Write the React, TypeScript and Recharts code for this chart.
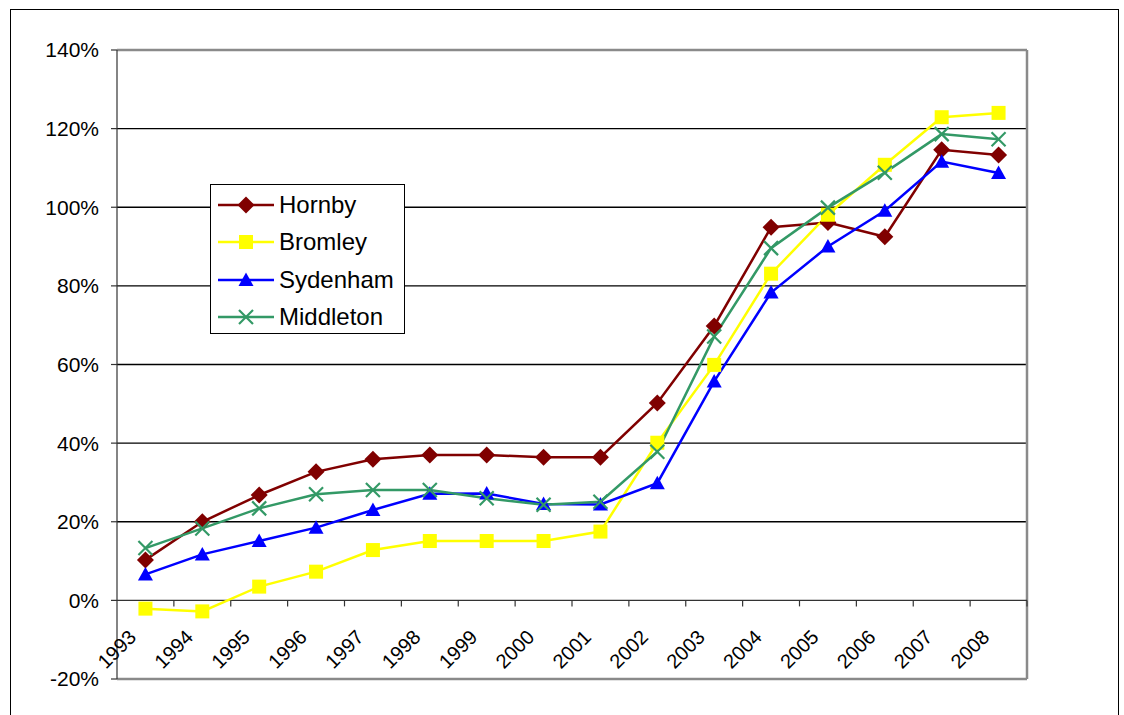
import React from "react";
import {
  CartesianGrid,
  Legend,
  Line,
  LineChart,
  ReferenceLine,
  XAxis,
  YAxis,
} from "recharts";

const years = [
  "1993", "1994", "1995", "1996", "1997", "1998", "1999", "2000",
  "2001", "2002", "2003", "2004", "2005", "2006", "2007", "2008",
];

// percentage change per area
const hornby = [10.3, 20.0, 26.8, 32.7, 35.9, 37.0, 37.0, 36.4, 36.4, 50.2, 69.8, 94.9, 96.1, 92.5, 114.6, 113.3];
const bromley = [-2.1, -2.8, 3.5, 7.3, 12.8, 15.1, 15.1, 15.1, 17.5, 40.1, 59.9, 83.1, 98.1, 110.8, 122.9, 124.0];
const sydenham = [6.6, 11.7, 15.1, 18.5, 23.0, 27.1, 27.2, 24.5, 24.4, 29.8, 55.7, 78.3, 90.0, 99.1, 111.6, 108.7];
const middleton = [13.3, 18.3, 23.4, 27.0, 28.1, 28.1, 26.0, 24.3, 25.1, 37.8, 67.1, 89.6, 99.9, 108.8, 118.6, 117.3];

const yTicks = [-20, 0, 20, 40, 60, 80, 100, 120, 140];
const gridValues = [20, 40, 60, 80, 100, 120];
const frameValues = [-20, 140];

type Shape = "diamond" | "square" | "triangle" | "cross";

const seriesList: { key: string; name: string; color: string; shape: Shape; values: number[] }[] = [
  { key: "hornby", name: "Hornby", color: "#800000", shape: "diamond", values: hornby },
  { key: "bromley", name: "Bromley", color: "#FFFF00", shape: "square", values: bromley },
  { key: "sydenham", name: "Sydenham", color: "#0000FF", shape: "triangle", values: sydenham },
  { key: "middleton", name: "Middleton", color: "#339966", shape: "cross", values: middleton },
];

const rows = years.map((year, i) => {
  const row: Record<string, string | number> = { year };
  seriesList.forEach((s) => {
    row[s.key] = s.values[i];
  });
  return row;
});

const FONT = "'Liberation Sans', Arial, Helvetica, sans-serif";
const W = 1124;
const H = 715;
const PLOT_LEFT = 117;
const PLOT_TOP = 50;
const PLOT_RIGHT = 1027;
const PLOT_BOTTOM = 679;
const Y_AXIS_W = 60;
const X_AXIS_H = 30;
const BAND = (PLOT_RIGHT - PLOT_LEFT) / years.length;
const ZERO_Y = PLOT_TOP + ((PLOT_BOTTOM - PLOT_TOP) * 140) / 160;

function Marker({ shape, cx, cy, color }: { shape: Shape; cx: number; cy: number; color: string }) {
  if (shape === "diamond") {
    const r = 8.5;
    return (
      <polygon
        points={`${cx},${cy - r} ${cx + r},${cy} ${cx},${cy + r} ${cx - r},${cy}`}
        fill={color}
      />
    );
  }
  if (shape === "square") {
    return <rect x={cx - 7} y={cy - 7} width={14} height={14} fill={color} />;
  }
  if (shape === "triangle") {
    return (
      <polygon
        points={`${cx},${cy - 7.5} ${cx + 7.5},${cy + 6} ${cx - 7.5},${cy + 6}`}
        fill={color}
      />
    );
  }
  return (
    <g stroke={color} strokeWidth={2.2}>
      <line x1={cx - 7} y1={cy - 7} x2={cx + 7} y2={cy + 7} />
      <line x1={cx - 7} y1={cy + 7} x2={cx + 7} y2={cy - 7} />
    </g>
  );
}

// year labels sit just under the 0% line, with the tick marks on the band edges
function YearTick(props: any) {
  const { x, payload } = props;
  const tx = x - 8;
  const ty = ZERO_Y + 38;
  return (
    <g>
      <line
        x1={x + BAND / 2}
        y1={ZERO_Y}
        x2={x + BAND / 2}
        y2={ZERO_Y + 6}
        stroke="#333"
        strokeWidth={1.2}
      />
      <text
        x={tx}
        y={ty}
        textAnchor="end"
        fontSize={20}
        fontFamily={FONT}
        fill="#000"
        transform={`rotate(-45 ${tx} ${ty})`}
      >
        {payload.value}
      </text>
    </g>
  );
}

function LegendBox() {
  return (
    <div
      style={{
        width: 193,
        height: 147,
        border: "1px solid #000",
        background: "#fff",
        paddingTop: 1,
        fontFamily: FONT,
        boxSizing: "content-box",
      }}
    >
      {seriesList.map((s) => (
        <div key={s.key} style={{ display: "flex", alignItems: "center", height: 37.5 }}>
          <svg width={62} height={24} style={{ marginLeft: 7, flex: "none" }}>
            <line x1={0} y1={12} x2={56} y2={12} stroke={s.color} strokeWidth={2.5} />
            <Marker shape={s.shape} cx={28} cy={12} color={s.color} />
          </svg>
          <span style={{ fontSize: 24, color: "#000", whiteSpace: "nowrap", marginLeft: -1 }}>{s.name}</span>
        </div>
      ))}
    </div>
  );
}

export default function App() {
  return (
    <div style={{ position: "absolute", left: 0, top: 0, width: W, height: H, background: "#fff", overflow: "hidden" }}>
      <div
        style={{
          position: "absolute",
          left: 10,
          top: 9,
          width: 1107,
          height: 720,
          border: "1px solid #000",
        }}
      />
      <div style={{ position: "absolute", left: 0, top: 0 }}>
        <LineChart
          width={W}
          height={H}
          data={rows}
          margin={{
            top: PLOT_TOP,
            right: W - PLOT_RIGHT,
            bottom: H - PLOT_BOTTOM - X_AXIS_H,
            left: PLOT_LEFT - Y_AXIS_W,
          }}
        >
          <CartesianGrid horizontal vertical={false} horizontalValues={gridValues} stroke="#000" strokeWidth={1.3} />
          {/* grey plot-area frame: top, bottom and right edges */}
          <CartesianGrid
            horizontalValues={frameValues}
            verticalPoints={[PLOT_RIGHT]}
            stroke="#8a8a8a"
            strokeWidth={2.5}
          />
          <XAxis
            dataKey="year"
            height={X_AXIS_H}
            axisLine={false}
            tickLine={false}
            interval={0}
            padding={{ left: BAND / 2, right: BAND / 2 }}
            tick={<YearTick />}
          />
          <YAxis
            width={Y_AXIS_W}
            domain={[-20, 140]}
            ticks={yTicks}
            interval={0}
            tickFormatter={(v: number) => `${v}%`}
            tick={{ fontSize: 21, fontFamily: FONT, fill: "#000" }}
            tickSize={6}
            tickMargin={12}
            axisLine={{ stroke: "#333", strokeWidth: 1.2 }}
            tickLine={{ stroke: "#333", strokeWidth: 1.2 }}
          />
          <ReferenceLine y={0} stroke="#333" strokeWidth={1.3} />
          <Legend
            layout="vertical"
            align="center"
            verticalAlign="middle"
            wrapperStyle={{ left: 210, top: 184, width: 195, margin: 0 }}
            content={() => <LegendBox />}
          />
          {seriesList.map((s) => (
            <Line
              key={s.key}
              dataKey={s.key}
              name={s.name}
              stroke={s.color}
              strokeWidth={2.5}
              isAnimationActive={false}
              activeDot={false}
              dot={(p: any) => (
                <Marker key={`${s.key}-${p.index}`} shape={s.shape} cx={p.cx} cy={p.cy} color={s.color} />
              )}
            />
          ))}
        </LineChart>
      </div>
    </div>
  );
}
